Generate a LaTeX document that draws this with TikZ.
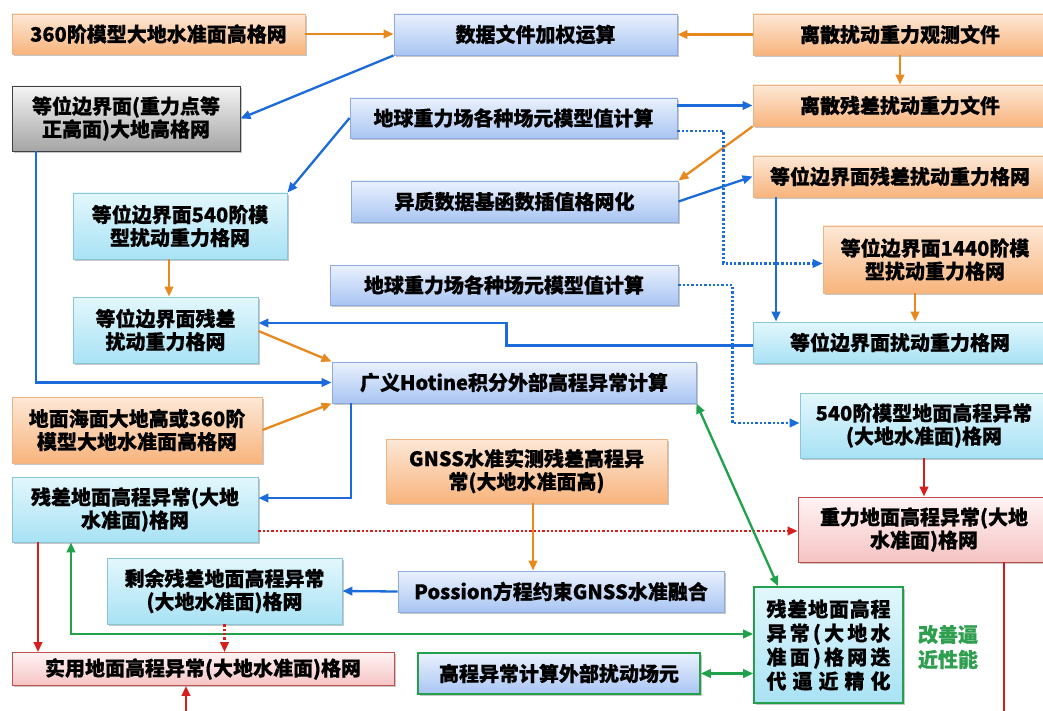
\documentclass[tikz,border=0pt]{standalone}
\usepackage{fontspec}
\setmainfont{Noto Sans CJK SC}[BoldFeatures={FakeBold=0.6}]
\usetikzlibrary{arrows.meta,shadows,calc}
\definecolor{orgT}{HTML}{FDE8D7}
\definecolor{orgB}{HTML}{F8B47C}
\definecolor{orgD}{HTML}{EDB585}
\definecolor{bluT}{HTML}{EAF1FD}
\definecolor{bluB}{HTML}{A9C5F3}
\definecolor{bluD}{HTML}{8FAADC}
\definecolor{cynT}{HTML}{E3F7FD}
\definecolor{cynB}{HTML}{A8E2F4}
\definecolor{cynD}{HTML}{8BC5D8}
\definecolor{gryT}{HTML}{F4F4F4}
\definecolor{gryB}{HTML}{A5A5A5}
\definecolor{gryD}{HTML}{3F3F3F}
\definecolor{pnkT}{HTML}{FFF4F4}
\definecolor{pnkB}{HTML}{F6C3C3}
\definecolor{pnkD}{HTML}{C0504D}
\definecolor{grnD}{HTML}{22A04B}
\definecolor{orgA}{HTML}{E8891F}
\definecolor{bluA}{HTML}{1C6BDB}
\definecolor{redA}{HTML}{D71E1E}
\definecolor{grnA}{HTML}{1FA24B}
\definecolor{lblG}{HTML}{2E9E4F}
\begin{document}
\begin{tikzpicture}[x=1pt,y=-1pt,
  font=\bfseries\fontsize{20}{23}\selectfont,
  box/.style={draw, line width=0.9pt, align=center, inner sep=2pt,
    drop shadow={shadow xshift=1.8pt, shadow yshift=-1.8pt, fill=black, opacity=0.22}},
  org/.style={box, draw=orgD, top color=orgT, bottom color=orgB},
  blu/.style={box, draw=bluD, top color=bluT, bottom color=bluB},
  cyn/.style={box, draw=cynD, top color=cynT, bottom color=cynB},
  gry/.style={box, draw=gryD, top color=gryT, bottom color=gryB},
  pnk/.style={box, draw=pnkD, top color=pnkT, bottom color=pnkB},
  con/.style={line width=2.3pt, -{Triangle[length=10pt,width=8.5pt]}},
  oa/.style={con, draw=orgA},
  ba/.style={con, draw=bluA},
  bd/.style={con, draw=bluA, dash pattern=on 2.3pt off 2pt},
  ra/.style={con, draw=redA},
  rd/.style={con, draw=redA, dash pattern=on 2.3pt off 2pt},
  ga/.style={line width=2.3pt, draw=grnA, {Triangle[length=10pt,width=8.5pt]}-{Triangle[length=10pt,width=8.5pt]}},
  rl/.style={line width=2.3pt, draw=redA}
]
\useasboundingbox (0,0) rectangle (1043,711);
\clip (0,0) rectangle (1043,711);
\fill[white] (0,0) rectangle (1043,711);

\node[org, minimum width=293pt, minimum height=40pt] (A) at (158.5,34) {360阶模型大地水准面高格网};
\node[blu, minimum width=283pt, minimum height=41pt] (B) at (535.5,34.5) {数据文件加权运算};
\node[org, minimum width=294pt, minimum height=41pt] (C) at (900,34.5) {离散扰动重力观测文件};
\node[gry, minimum width=228pt, minimum height=65pt] (D) at (126,118.5) {等位边界面(重力点等\\正高面)大地高格网};
\node[blu, minimum width=327pt, minimum height=40pt] (E) at (513.5,118) {地球重力场各种场元模型值计算};
\node[org, minimum width=294pt, minimum height=41pt] (F) at (900,105.5) {离散残差扰动重力文件};
\node[cyn, minimum width=214pt, minimum height=66pt] (G) at (180,226) {等位边界面540阶模\\型扰动重力格网};
\node[blu, minimum width=327pt, minimum height=41pt] (H) at (514.5,201.5) {异质数据基函数插值格网化};
\node[org, minimum width=294pt, minimum height=41pt] (I) at (900,176.5) {等位边界面残差扰动重力格网};
\node[org, minimum width=224pt, minimum height=67pt] (J) at (935,259.5) {等位边界面1440阶模\\型扰动重力格网};
\node[blu, minimum width=348pt, minimum height=40pt] (K) at (504,285) {地球重力场各种场元模型值计算};
\node[cyn, minimum width=185pt, minimum height=66pt] (L) at (165.5,330) {等位边界面残差\\扰动重力格网};
\node[cyn, minimum width=294pt, minimum height=41pt] (M) at (900,342.5) {等位边界面扰动重力格网};
\node[blu, minimum width=364pt, minimum height=41pt] (N) at (514,382.5) {广义Hotine积分外部高程异常计算};
\node[org, minimum width=250pt, minimum height=66pt] (O) at (137,430) {地面海面大地高或360阶\\模型大地水准面高格网};
\node[cyn, minimum width=248pt, minimum height=65pt] (P) at (924,425.5) {540阶模型地面高程异常\\(大地水准面)格网};
\node[org, minimum width=281pt, minimum height=64pt] (Q) at (526.5,471) {GNSS水准实测残差高程异\\常(大地水准面高)};
\node[cyn, minimum width=246pt, minimum height=65pt] (R) at (135,509.5) {残差地面高程异常(大地\\水准面)格网};
\node[pnk, minimum width=252pt, minimum height=65pt] (S) at (924,529.5) {重力地面高程异常(大地\\水准面)格网};
\node[cyn, minimum width=235pt, minimum height=66pt] (T) at (224.5,591) {剩余残差地面高程异常\\(大地水准面)格网};
\node[blu, minimum width=326pt, minimum height=41pt] (U) at (561,591.5) {Possion方程约束GNSS水准融合};
\node[cyn, draw=grnD, line width=1.6pt, minimum width=149pt, minimum height=116pt,
      font=\bfseries\fontsize{20}{24}\selectfont] (V) at (828.5,645)
  {\makebox[124pt][s]{残\hfill{}差\hfill{}地\hfill{}面\hfill{}高\hfill{}程}\\
   \makebox[124pt][s]{异\hfill{}常\hfill{}(\hfill{}大\hfill{}地\hfill{}水}\\
   \makebox[124pt][s]{准\hfill{}面\hfill{})\hfill{}格\hfill{}网\hfill{}迭}\\
   \makebox[124pt][s]{代\hfill{}逼\hfill{}近\hfill{}精\hfill{}化}};
\node[pnk, minimum width=382pt, minimum height=33pt] (W) at (203,669) {实用地面高程异常(大地水准面)格网};
\node[blu, draw=grnD, line width=1.6pt, minimum width=282pt, minimum height=41pt] (X) at (559,673.5) {高程异常计算外部扰动场元};
\node[text=lblG, align=center, font=\bfseries\fontsize{20}{25}\selectfont] (Y) at (948,647) {改善逼\\近性能};

\coordinate (wb) at (186,715);
\coordinate (sb) at (1004,715);

% connectors
\draw[oa] (A.east) -- (A.east -| B.west);
\draw[oa] (C.west) -- (B.east);
\draw[ba] (B.south west) -- (D.east);
\draw[oa] (C.south) -- (F.north);
\draw[ba] (F.west -| E.east) -- (F.west);
\draw[ba] (E.west) -- (G.north east);
\draw[oa] (F.south west) -- (H.north east);
\draw[ba] (H.east) -- (I.west);
\draw[bd] ([yshift=-13pt]E.east) -- ++(46,0) |- ([yshift=-4pt]J.west);
\draw[ba] ([xshift=-124pt]I.south) -- ([xshift=-124pt]I.south |- M.north);
\draw[oa] ([xshift=-20pt]J.south) -- ([xshift=-20pt]J.south |- M.north);
\draw[ba] ([yshift=-3pt]M.west) -- ++(-246,0) |- ([yshift=7pt]L.east);
\draw[bd] (K.east) -- ++(54,0) |- ([yshift=2.5pt]P.west);
\draw[oa] ([xshift=-11pt]G.south) -- ([xshift=-11pt]G.south |- L.north);
\draw[ba] ([xshift=-90pt]D.south) |- (N.west);
\draw[oa] ([yshift=-1pt]L.east) -- (N.north west);
\draw[oa] (O.east) -- (N.south west);
\draw[ba] ([xshift=-163pt]N.south) |- ([yshift=11.5pt]R.east);
\draw[rd] ([yshift=-21.5pt]R.east) -- ([yshift=-1.5pt]S.west);
\draw[ra] (P.south) -- (S.north);
\draw[oa] ([xshift=6.5pt]Q.south) -- ([xshift=6.5pt]Q.south |- U.north);
\draw[ba] (U.west) -- (T.east);
\draw[ga] ([xshift=-50.5pt]V.north) -- (N.south east);
\draw[ga] ([xshift=-64pt]R.south) |- ([yshift=11pt]V.west);
\draw[ga] (X.east) -- (X.east -| V.west);
\draw[ra] ([xshift=-97pt]R.south) -- ([xshift=-97pt]R.south |- W.north);
\draw[rd] (T.south) -- (T.south |- W.north);
\draw[ra] (wb) -- (wb |- W.south);
\draw[rl] ([xshift=80pt]S.south) -- (sb);
\end{tikzpicture}
\end{document}
